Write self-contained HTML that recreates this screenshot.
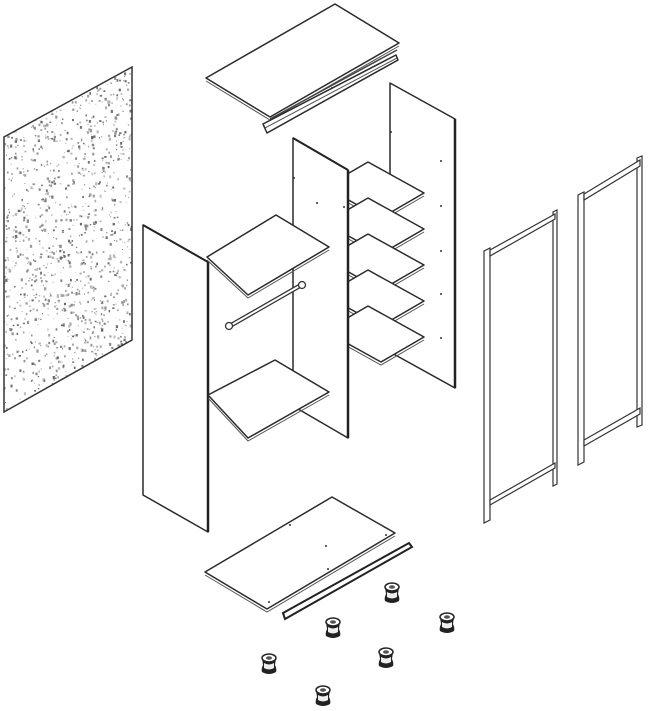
<!DOCTYPE html>
<html><head><meta charset="utf-8"><style>
html,body{margin:0;padding:0;background:#fff;}
svg{display:block;}
.p{fill:#fff;stroke:#2a2a2a;stroke-width:1.5;stroke-linejoin:round;}
.t{fill:none;stroke:#555;stroke-width:1;}
.d{fill:#333;}
</style></head><body>
<svg id="s" width="660" height="711" viewBox="0 0 660 711" xmlns="http://www.w3.org/2000/svg">
<defs><clipPath id="bc"><polygon points="4,137 132,67 132,340 4,412"/></clipPath></defs>
<!-- back panel -->
<g id="speck" clip-path="url(#bc)"></g>
<polygon points="4,137 132,67 132,340 4,412" fill="none" stroke="#333" stroke-width="1.5"/>

<!-- top panel -->
<polygon class="p" points="206,78 335,4 399,43 270,117"/>
<polyline class="t" points="206,81 270,120 399,46"/>
<!-- top rail -->
<polygon class="p" points="263,124 396,55 398,60 267,133"/>
<line class="t" x1="265" y1="128" x2="397" y2="58"/>
<line x1="270" y1="119" x2="397" y2="50" stroke="#444" stroke-width="1.5"/>
<circle class="d" cx="332" cy="88" r="1"/>

<!-- right back side panel -->
<polygon class="p" points="390,83 455,119 455,388 390,352"/>
<line x1="455" y1="119" x2="455" y2="388" stroke="#222" stroke-width="2.5"/>
<circle class="d" cx="391" cy="132" r="1"/><circle class="d" cx="441" cy="161" r="1"/><circle class="d" cx="441" cy="206" r="1"/><circle class="d" cx="441" cy="251" r="1"/><circle class="d" cx="441" cy="294" r="1"/><circle class="d" cx="441" cy="338" r="1"/>

<!-- right shelves -->
<g id="rs"></g>

<!-- middle partition -->
<polygon class="p" points="293,138 348,170 348,438 293,406"/>
<line x1="348" y1="170" x2="348" y2="438" stroke="#222" stroke-width="2.5"/>
<line x1="293" y1="138" x2="348" y2="170" stroke="#222" stroke-width="2"/>
<circle class="d" cx="294" cy="178" r="1"/><circle class="d" cx="317" cy="203" r="1"/><circle class="d" cx="344" cy="207" r="1"/><circle class="d" cx="327" cy="393" r="1"/>

<!-- left side panel -->
<polygon class="p" points="143,225 208,262 208,532 143,495"/>
<line x1="208" y1="262" x2="208" y2="532" stroke="#222" stroke-width="2.5"/>
<line x1="143" y1="225" x2="208" y2="262" stroke="#222" stroke-width="2"/>

<!-- left shelves -->
<polygon class="p" points="207,257 276,215 329,247 248,295"/>
<polyline class="t" points="207,260 248,298 329,250"/>
<polygon class="p" points="208,395 275,360 329,392 248,438"/>
<polyline class="t" points="208,398 248,441 329,395"/>
<!-- rod -->
<line x1="228" y1="327" x2="303" y2="284" stroke="#333" stroke-width="4.5" stroke-linecap="round"/>
<line x1="228" y1="327" x2="303" y2="284" stroke="#fff" stroke-width="2" stroke-linecap="round"/>
<circle cx="229" cy="326" r="3.5" fill="#fff" stroke="#333" stroke-width="1.3"/>
<circle cx="302" cy="285" r="3.5" fill="#fff" stroke="#333" stroke-width="1.3"/>

<!-- door 1 -->
<g fill="#fff" stroke="#333" stroke-width="1.2">
<polygon points="484,251 490,248 490,520 484,523"/>
<polygon points="553,212 557,210 557,484 553,486"/>
<polygon points="490,250 555,214 555,219 490,256"/>
<polygon points="490,500 555,463 555,468 490,505"/>
<!-- door 2 -->
<polygon points="578,195 584,192 584,462 578,465"/>
<polygon points="637,158 642,156 642,425 637,427"/>
<polygon points="584,194 640,160 640,166 584,200"/>
<polygon points="584,440 640,408 640,414 584,446"/>
</g>

<!-- bottom panel -->
<polygon class="p" points="205,572 332,497 395,533 267,609"/>
<polyline class="t" points="205,575 267,612 395,536"/>
<circle class="d" cx="290" cy="525" r="1"/><circle class="d" cx="326" cy="546" r="1"/><circle class="d" cx="328" cy="569" r="1"/><circle class="d" cx="386" cy="535" r="1"/><circle class="d" cx="269" cy="602" r="1"/>
<!-- bottom rail -->
<polygon points="283,613 409,543 412,547 285,619" fill="#fff" stroke="#222" stroke-width="2"/>

<!-- feet -->
<g id="feet"></g>
</svg>
<script>
(function(){
var NS="http://www.w3.org/2000/svg";
var g=document.getElementById("speck");
var seed=7;function r(){seed=(seed*16807)%2147483647;return seed/2147483647;}
for(var i=0;i<1500;i++){
 var x=2+r()*132,y=64+r()*350;
 var c=document.createElementNS(NS,"rect");
 var w=0.8+r()*1.6;
 c.setAttribute("x",x);c.setAttribute("y",y);c.setAttribute("width",w);c.setAttribute("height",w*(0.7+r()*0.8));
 var v=Math.floor(100+r()*100);
 c.setAttribute("fill","rgb("+v+","+v+","+v+")");
 g.appendChild(c);
}
var rs=document.getElementById("rs");
for(var k=0;k<5;k++){
 var dy=k*36;
 var p=document.createElementNS(NS,"polygon");
 p.setAttribute("class","p");
 p.setAttribute("points","325,"+(187+dy)+" 368,"+(162+dy)+" 424,"+(193+dy)+" 381,"+(218+dy));
 rs.appendChild(p);
 var l=document.createElementNS(NS,"polyline");
 l.setAttribute("class","t");
 l.setAttribute("points","325,"+(190+dy)+" 381,"+(221+dy)+" 424,"+(196+dy));
 rs.appendChild(l);
}
var feet=[[392,592],[333,627],[447,622],[269,663],[386,657],[323,695]];
var fg=document.getElementById("feet");
feet.forEach(function(f){
 var x=f[0],y=f[1];
 fg.innerHTML+='<path d="M'+(x-7)+','+(y-5)+' L'+(x-6)+','+(y+2)+' Q'+(x-8)+','+(y+6)+' '+(x-7)+','+(y+9)+' Q'+x+','+(y+13)+' '+(x+7)+','+(y+9)+' Q'+(x+8)+','+(y+6)+' '+(x+6)+','+(y+2)+' L'+(x+7)+','+(y-5)+' Z" fill="#222"/>'+
 '<path d="M'+(x-5)+','+(y)+' Q'+x+','+(y+3)+' '+(x+5)+','+(y)+' L'+(x+5)+','+(y+5)+' Q'+x+','+(y+8)+' '+(x-5)+','+(y+5)+' Z" fill="#eee"/>'+
 '<ellipse cx="'+x+'" cy="'+(y-5)+'" rx="7" ry="4" fill="#fff" stroke="#222" stroke-width="1.5"/>'+
 '<ellipse cx="'+x+'" cy="'+(y-5)+'" rx="3" ry="1.8" fill="#555"/>';
});
})();
</script>
</body></html>
